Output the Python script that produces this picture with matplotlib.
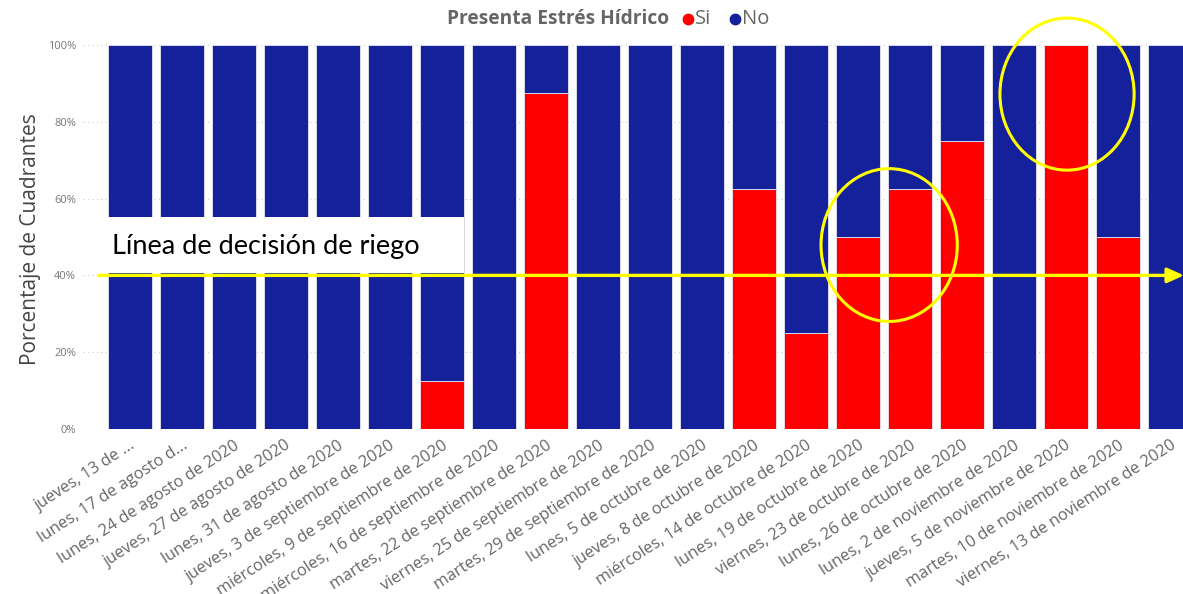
import matplotlib.pyplot as plt
from matplotlib.patches import Ellipse, Rectangle
from matplotlib.lines import Line2D

fechas = [
    "jueves, 13 de ...",
    "lunes, 17 de agosto d...",
    "lunes, 24 de agosto de 2020",
    "jueves, 27 de agosto de 2020",
    "lunes, 31 de agosto de 2020",
    "jueves, 3 de septiembre de 2020",
    "miércoles, 9 de septiembre de 2020",
    "miércoles, 16 de septiembre de 2020",
    "martes, 22 de septiembre de 2020",
    "viernes, 25 de septiembre de 2020",
    "martes, 29 de septiembre de 2020",
    "lunes, 5 de octubre de 2020",
    "jueves, 8 de octubre de 2020",
    "miércoles, 14 de octubre de 2020",
    "lunes, 19 de octubre de 2020",
    "viernes, 23 de octubre de 2020",
    "lunes, 26 de octubre de 2020",
    "lunes, 2 de noviembre de 2020",
    "jueves, 5 de noviembre de 2020",
    "martes, 10 de noviembre de 2020",
    "viernes, 13 de noviembre de 2020",
]
si = [0, 0, 0, 0, 0, 0, 12.5, 0, 87.5, 0, 0, 0, 62.5, 25, 50, 62.5, 75, 0, 100, 50, 0]
no = [100 - v for v in si]
umbral = 40
y_ticks = [0, 20, 40, 60, 80, 100]

ROJO = "#FF0000"
AZUL = "#14219A"
AMARILLO = "#FFFF00"

plt.rcParams['font.family'] = ['Open Sans', 'DejaVu Sans']

fig = plt.figure(figsize=(11.83, 5.94), dpi=100)
ax = fig.add_axes([0.0702, 0.2778, 0.9408, 0.6465])

x = list(range(len(fechas)))
ax.bar(x, si, width=0.846, color=ROJO, edgecolor="#e6e6f2", linewidth=0.6, zorder=2)
ax.bar(x, no, bottom=si, width=0.846, color=AZUL, edgecolor="#e6e6f2", linewidth=0.6, zorder=2)

ax.set_xlim(-0.9, 20.5)
ax.set_ylim(0, 100)
ax.set_yticks(y_ticks)
ax.set_yticklabels([f"{t}%" for t in y_ticks], fontsize=8, color="#777777")
ax.yaxis.grid(True, linestyle=(0, (1, 3)), color="#cccccc", linewidth=0.8, zorder=0)
ax.tick_params(axis="y", length=0, pad=5)
ax.tick_params(axis="x", length=0, pad=6)
ax.set_xticks(x)
ax.set_xticklabels(fechas, rotation=33, ha="right", rotation_mode="anchor",
                   fontsize=11.8, color="#666666")
for s in ax.spines.values():
    s.set_visible(False)

# caja blanca con el texto de la linea de decision
ax.add_patch(Rectangle((-0.6, 40.5), 7.02, 14.6, facecolor="white",
                       edgecolor="none", zorder=3))
ax.text(-0.35, 47.5, "Línea de decisión de riego", fontsize=19.5, color="black",
        family=['Lato', 'DejaVu Sans'], va="center", ha="left", zorder=4)

# linea amarilla con flecha
ax.annotate("", xy=(20.27, umbral), xytext=(-0.6, umbral),
            xycoords="data", textcoords="data", annotation_clip=False,
            arrowprops=dict(arrowstyle="-|>,head_length=1.0,head_width=0.45",
                            color=AMARILLO, lw=2.4, shrinkA=0, shrinkB=0),
            zorder=5)

# elipses de resaltado
for cx, cy, w, h in [(14.6, 47.9, 2.62, 39.8), (18.02, 87.2, 2.58, 39.6)]:
    ax.add_patch(Ellipse((cx, cy), w, h, fill=False, edgecolor=AMARILLO,
                         lw=2.2, zorder=6, clip_on=False))

# leyenda superior
fig.text(0.378, 0.968, "Presenta Estrés Hídrico", fontsize=13.8, fontweight="bold",
         color="#666666", va="center", ha="left")
fig.add_artist(Line2D([0.5815], [0.968], marker="o", markersize=7.5, color=ROJO,
                      linestyle="none", transform=fig.transFigure))
fig.text(0.5875, 0.968, "Si", fontsize=14.5, color="#666666", va="center", ha="left")
fig.add_artist(Line2D([0.6215], [0.968], marker="o", markersize=7.5, color=AZUL,
                      linestyle="none", transform=fig.transFigure))
fig.text(0.6275, 0.968, "No", fontsize=14.5, color="#666666", va="center", ha="left")

fig.text(0.026, 0.597, "Porcentaje de Cuadrantes", fontsize=15, color="#444444",
         rotation=90, va="center", ha="center")

plt.savefig("out.png", dpi=100)
